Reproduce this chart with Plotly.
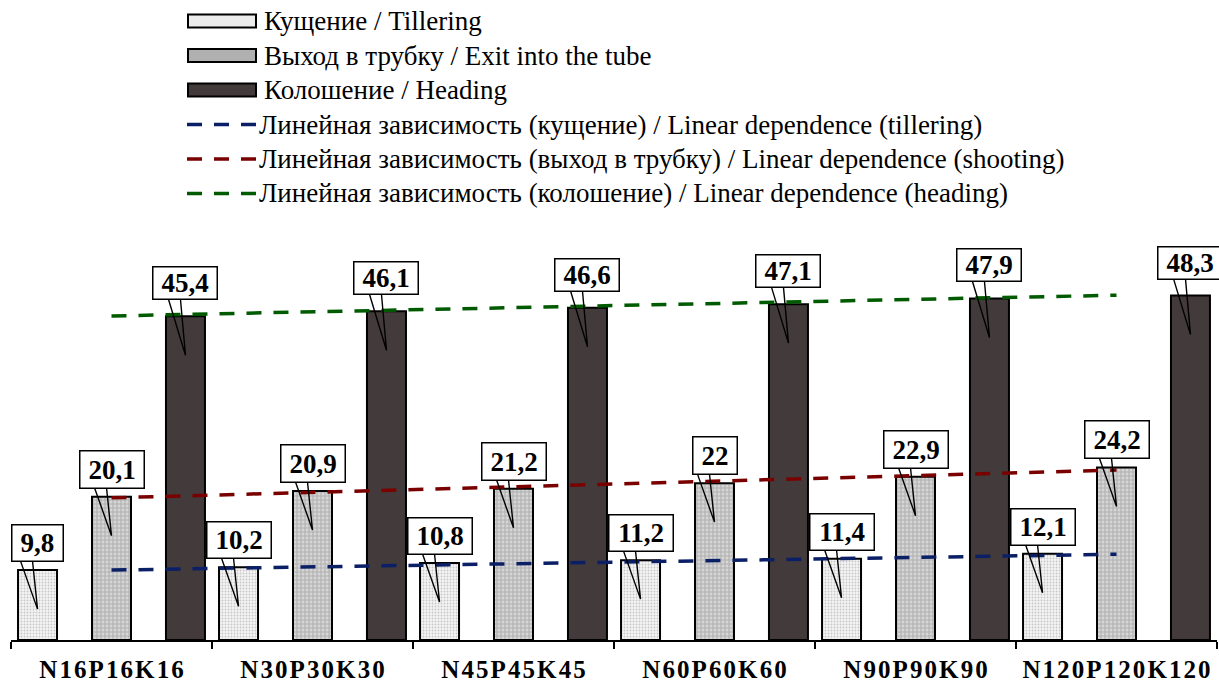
import numpy as np
import plotly.graph_objects as go

# ---- data -------------------------------------------------------------
categories = ["N16P16K16", "N30P30K30", "N45P45K45",
              "N60P60K60", "N90P90K90", "N120P120K120"]
tillering = [9.8, 10.2, 10.8, 11.2, 11.4, 12.1]
shooting = [20.1, 20.9, 21.2, 22.0, 22.9, 24.2]
heading = [45.4, 46.1, 46.6, 47.1, 47.9, 48.3]

bar_names = ["Кущение / Tillering",
             "Выход в трубку / Exit into the tube",
             "Колошение / Heading"]
trend_names = ["Линейная зависимость (кущение) / Linear dependence (tillering)",
               "Линейная зависимость (выход в трубку) / Linear dependence (shooting)",
               "Линейная зависимость (колошение) / Linear dependence (heading)"]

# ---- geometry / style -------------------------------------------------
W, H = 1219, 682
ML, MR, MT, MB = 11, 2, 230, 42
Y_MAX = 57.5
SERIF = "Liberation Serif"

bar_width = 0.194                      # in category units
bar_offsets = [-0.465, -0.097, 0.271]  # left edge of each bar relative to category centre
label_gaps = [8, 8, 16]                # px between bar top and its callout box
box_heights = [38, 39, 34]

bar_styles = [
    dict(color="white", pattern=dict(shape=".", fgcolor="#9a9a9a", bgcolor="#f4f4f4",
                                     size=3, solidity=0.3)),
    dict(color="white", pattern=dict(shape="+", fgcolor="#8c8c8c", bgcolor="#d6d6d6",
                                     size=4, solidity=0.5)),
    dict(color="#433b3b"),
]
legend_fill = ["#ececec", "#b0b0b0", "#433b3b"]
trend_colors = ["#0b1f66", "#7a0000", "#005a00"]
DASH = "15px,12px"


def px_x(px):
    return (px - ML) / (W - ML - MR)


def px_y(py):
    return (H - MB - py) / (H - MT - MB)


def fmt(v):
    return f"{v:g}".replace(".", ",")


def text_w(s, size):
    # approximate advance width of a bold serif numeric label
    return sum(0.25 * size if c == "," else 0.5 * size for c in s)


series = [tillering, shooting, heading]
fig = go.Figure()

for vals, name, style, off in zip(series, bar_names, bar_styles, bar_offsets):
    fig.add_trace(go.Bar(
        x=categories, y=vals, name=name, width=bar_width, offset=off,
        marker=dict(**style, line=dict(color="black", width=2)),
        showlegend=False,
    ))

# least-squares linear trend of each series
idx = np.arange(1, len(categories) + 1)
for vals, name, col in zip(series, trend_names, trend_colors):
    k, b = np.polyfit(idx, vals, 1)
    fig.add_trace(go.Scatter(
        x=categories, y=k * idx + b, mode="lines", name=name,
        line=dict(color=col, width=3.5, dash=DASH), showlegend=False,
    ))

# callout labels
FS = 27
for s_i, (vals, off, gap, bh) in enumerate(zip(series, bar_offsets, label_gaps, box_heights)):
    for c_i, v in enumerate(vals):
        cx = c_i + off + bar_width / 2
        txt = fmt(v)
        fig.add_shape(
            type="path", xref="x", yref="y", xsizemode="pixel", ysizemode="pixel",
            xanchor=cx, yanchor=v,
            path=f"M-17,{gap + 1} L0,-39 L-5,{gap + 1}",
            line=dict(color="black", width=1.4), fillcolor="rgba(0,0,0,0)",
            layer="above",
        )
        fig.add_annotation(
            x=cx, y=v, xref="x", yref="y", text=f"<b>{txt}</b>",
            showarrow=False, yanchor="bottom", xanchor="center", yshift=gap,
            width=text_w(txt, FS) + 14, height=bh - 5,
            bgcolor="white", bordercolor="black", borderwidth=1.5, borderpad=1,
            font=dict(family=SERIF, size=FS, color="black"),
        )

# legend block
ROW0, STEP = 21, 34.5
LEG_FS = 27
for i, name in enumerate(bar_names):
    yc = ROW0 + i * STEP
    fig.add_shape(type="rect", xref="paper", yref="paper",
                  x0=px_x(188), x1=px_x(256), y0=px_y(yc + 6.5), y1=px_y(yc - 6.5),
                  fillcolor=legend_fill[i], line=dict(color="black", width=2))
    fig.add_annotation(x=px_x(262), y=px_y(yc), xref="paper", yref="paper",
                       text=name, showarrow=False, xanchor="left", yanchor="middle",
                       font=dict(family=SERIF, size=LEG_FS, color="black"))
for i, (name, col) in enumerate(zip(trend_names, trend_colors)):
    yc = ROW0 + (i + 3) * STEP
    fig.add_shape(type="line", xref="paper", yref="paper",
                  x0=px_x(187), x1=px_x(258), y0=px_y(yc), y1=px_y(yc),
                  line=dict(color=col, width=3.5, dash=DASH))
    fig.add_annotation(x=px_x(257), y=px_y(yc), xref="paper", yref="paper",
                       text=name, showarrow=False, xanchor="left", yanchor="middle",
                       font=dict(family=SERIF, size=LEG_FS, color="black"))

spaced = ["\u200a".join(c) for c in categories]
fig.update_layout(
    width=W, height=H,
    margin=dict(l=ML, r=MR, t=MT, b=MB, autoexpand=False),
    paper_bgcolor="white", plot_bgcolor="white",
    barmode="overlay", showlegend=False,
    xaxis=dict(type="category", tickmode="array", tickvals=categories, ticktext=spaced,
               tickson="boundaries", ticks="outside", ticklen=7, tickwidth=2,
               tickcolor="black", showline=True, linecolor="black", linewidth=2,
               showgrid=False, zeroline=False, range=[-0.5, 5.5],
               ticklabelstandoff=6,
               tickfont=dict(family=SERIF, size=25, color="black", weight="bold")),
    yaxis=dict(range=[0, Y_MAX], visible=False, showgrid=False, zeroline=False),
)

fig.write_html("out.html")
